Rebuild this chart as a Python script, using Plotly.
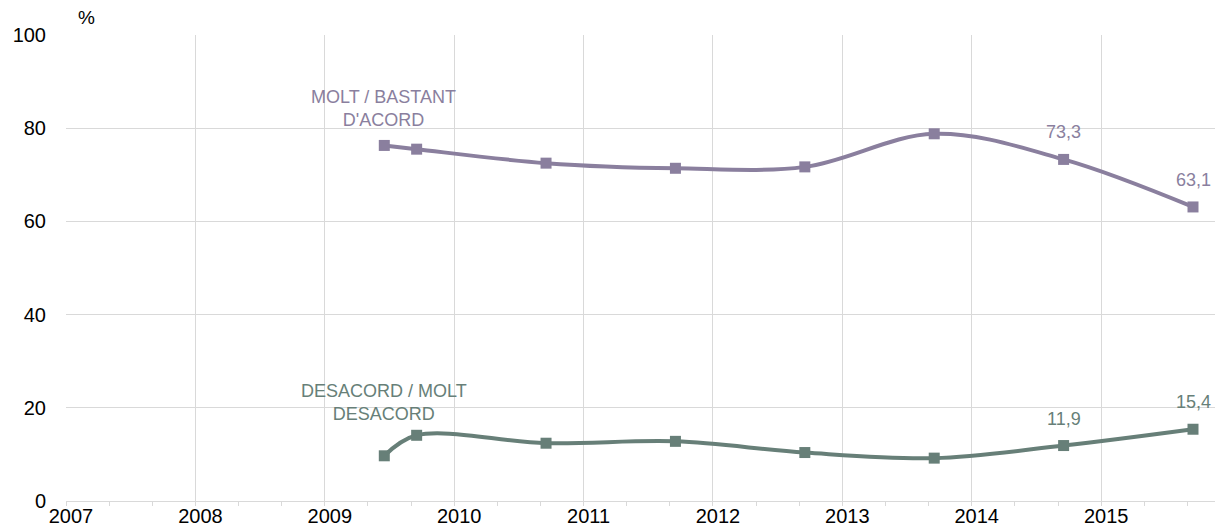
import plotly.graph_objects as go

# Survey waves, as fractional years
wave_year = [2009.46, 2009.71, 2010.71, 2011.71, 2012.71, 2013.71, 2014.71, 2015.71]

# Share of respondents (%)
agree = [76.3, 75.5, 72.5, 71.4, 71.7, 78.8, 73.3, 63.1]
disagree = [9.7, 14.1, 12.4, 12.8, 10.4, 9.2, 11.9, 15.4]

agree_name = "MOLT / BASTANT<br>D'ACORD"
disagree_name = "DESACORD / MOLT<br>DESACORD"

year_ticks = [2007, 2008, 2009, 2010, 2011, 2012, 2013, 2014, 2015]
pct_ticks = [0, 20, 40, 60, 80, 100]

# Values labelled on the chart (last two waves of each series)
labelled_idx = [6, 7]

AGREE_COL = "#8a7f9e"
DISAGREE_COL = "#677f78"
GRID = "#d9d9d9"
FONT = "Arial, Liberation Sans, sans-serif"


def fmt(v):
    return f"{v:.1f}".replace(".", ",")


fig = go.Figure()
for vals, col in [(agree, AGREE_COL), (disagree, DISAGREE_COL)]:
    fig.add_trace(go.Scatter(
        x=wave_year, y=vals, mode="lines+markers",
        line=dict(color=col, width=4, shape="spline", smoothing=1),
        marker=dict(symbol="square", size=11, color=col),
        showlegend=False, hoverinfo="skip",
    ))
    for i in labelled_idx:
        fig.add_annotation(
            x=wave_year[i], y=vals[i], text=fmt(vals[i]),
            showarrow=False, yshift=27, yanchor="middle",
            font=dict(family=FONT, size=18, color=col),
        )

fig.add_annotation(x=2009.45, y=84.3, text=agree_name, showarrow=False,
                   font=dict(family=FONT, size=18, color=AGREE_COL),
                   align="center", yanchor="middle")
fig.add_annotation(x=2009.46, y=21.1, text=disagree_name, showarrow=False,
                   font=dict(family=FONT, size=18, color=DISAGREE_COL),
                   align="center", yanchor="middle")
fig.add_annotation(xref="paper", yref="paper", x=20 / 1149, y=1,
                   yshift=18, text="%", showarrow=False,
                   font=dict(family=FONT, size=19, color="#000000"),
                   xanchor="center", yanchor="middle")

fig.update_layout(
    width=1223, height=529,
    margin=dict(l=66, r=8, t=35, b=28, autoexpand=False),
    paper_bgcolor="white", plot_bgcolor="white",
    font=dict(family=FONT, size=20, color="#000000"),
)
fig.update_xaxes(
    range=[2007, 2015.88], tickvals=year_ticks,
    ticktext=[str(y) for y in year_ticks],
    showgrid=True, gridcolor=GRID, gridwidth=1,
    showline=True, linecolor=GRID, linewidth=1,
    ticks="outside", ticklen=4, tickcolor=GRID,
    minor=dict(tick0=2007, dtick=1/3, ticks="outside", ticklen=4,
               tickcolor=GRID, showgrid=False),
    zeroline=False, fixedrange=True, automargin=False,
    ticklabelshift=5, ticklabelstandoff=-7,
    tickfont=dict(size=20),
)
fig.update_yaxes(
    range=[0, 100], tickvals=pct_ticks,
    showgrid=True, gridcolor=GRID, gridwidth=1,
    showline=False, zeroline=False, ticks="",
    ticklabelstandoff=19, fixedrange=True, automargin=False,
    tickfont=dict(size=20),
)

fig.write_html("out.html")
